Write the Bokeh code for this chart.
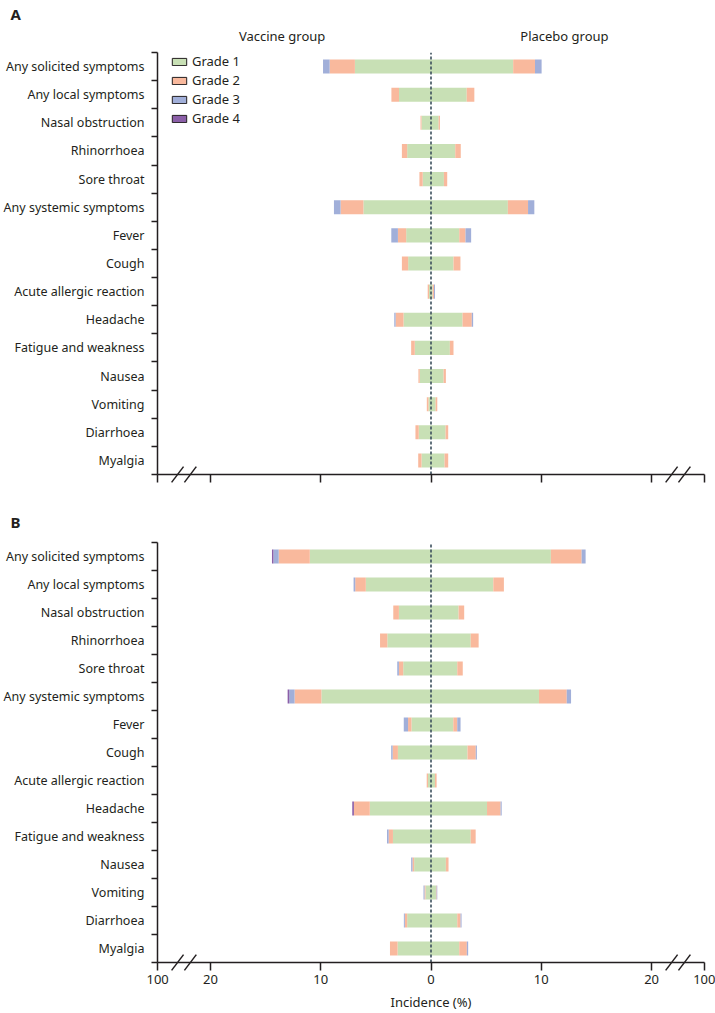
import numpy as np
from bokeh.plotting import figure
from bokeh.models import (ColumnDataSource, FixedTicker, CustomJSTickFormatter,
                          Legend, LegendItem, Range1d, LinearAxis)
from bokeh.layouts import column
from bokeh.embed import file_html
from bokeh.resources import INLINE

categories = ["Any solicited symptoms", "Any local symptoms", "Nasal obstruction", "Rhinorrhoea",
              "Sore throat", "Any systemic symptoms", "Fever", "Cough", "Acute allergic reaction",
              "Headache", "Fatigue and weakness", "Nausea", "Vomiting", "Diarrhoea", "Myalgia"]
grades = ["Grade 1", "Grade 2", "Grade 3", "Grade 4"]
colors = ["#c8e0b5", "#f9b99d", "#a1afd9", "#8b5fa8"]

# Panel A
a_vac_g1 = [6.9, 2.9, 0.86, 2.16, 0.75, 6.13, 2.25, 2.07, 0.18, 2.49, 1.47, 1.02, 0.23, 1.11, 0.86]
a_vac_g2 = [2.29, 0.69, 0.09, 0.48, 0.3, 2.07, 0.75, 0.57, 0.12, 0.72, 0.33, 0.12, 0.15, 0.3, 0.3]
a_vac_g3 = [0.6, 0, 0, 0, 0, 0.6, 0.6, 0, 0, 0.12, 0, 0, 0, 0, 0]
a_vac_g4 = [0, 0, 0, 0, 0, 0, 0, 0, 0, 0, 0, 0, 0, 0, 0]
a_pla_g1 = [7.45, 3.24, 0.69, 2.2, 1.17, 6.97, 2.56, 2.04, 0.15, 2.86, 1.71, 1.14, 0.42, 1.32, 1.23]
a_pla_g2 = [1.98, 0.69, 0.12, 0.5, 0.3, 1.83, 0.57, 0.63, 0.12, 0.84, 0.33, 0.21, 0.15, 0.24, 0.33]
a_pla_g3 = [0.6, 0, 0, 0, 0, 0.57, 0.51, 0, 0.09, 0.12, 0, 0, 0, 0, 0]
a_pla_g4 = [0, 0, 0, 0, 0, 0, 0, 0, 0, 0, 0, 0, 0, 0, 0]

# Panel B
b_vac_g1 = [10.99, 5.91, 2.91, 3.96, 2.52, 9.94, 1.77, 3.0, 0.27, 5.55, 3.45, 1.53, 0.5, 2.16, 3.03]
b_vac_g2 = [2.82, 0.96, 0.51, 0.66, 0.39, 2.43, 0.31, 0.48, 0.12, 1.44, 0.39, 0.15, 0.09, 0.21, 0.69]
b_vac_g3 = [0.48, 0.15, 0, 0, 0.15, 0.48, 0.39, 0.13, 0, 0, 0.15, 0.12, 0.09, 0.09, 0]
b_vac_g4 = [0.13, 0, 0, 0, 0, 0.15, 0, 0, 0, 0.15, 0, 0, 0, 0, 0]
b_pla_g1 = [10.87, 5.65, 2.5, 3.6, 2.38, 9.79, 2.02, 3.31, 0.36, 5.08, 3.6, 1.35, 0.45, 2.38, 2.56]
b_pla_g2 = [2.79, 0.96, 0.51, 0.72, 0.5, 2.52, 0.36, 0.75, 0.15, 1.23, 0.45, 0.24, 0.06, 0.3, 0.69]
b_pla_g3 = [0.36, 0, 0, 0, 0, 0.39, 0.3, 0.1, 0, 0.1, 0, 0, 0.06, 0.09, 0.12]
b_pla_g4 = [0, 0, 0, 0, 0, 0, 0, 0, 0, 0, 0, 0, 0, 0, 0]

x_tick_values = [-24.79, -20, -10, 0, 10, 20, 24.79]
x_tick_labels = ["100", "20", "10", "0", "10", "20", "100"]
break_centers = [-22.4, 22.4]
group_headers = ["Vaccine group", "Placebo group"]
group_header_x = [-13.5, 12.1]

FONT = "Noto Sans"
TXT = "#231f20"
N = len(categories)
ypos = [N - 0.5 - i for i in range(N)]
bounds = list(range(N + 1))

W = 715
BL, BR = 155, 11
XMIN, XMAX = -24.8, 24.8


def make_panel(vac, pla, letter, height, top, bottom, show_labels, headers, title_standoff, legend):
    p = figure(width=W, height=height, x_range=Range1d(XMIN, XMAX), y_range=Range1d(0, N),
               output_backend="svg", toolbar_location=None,
               min_border_left=BL, min_border_right=BR, min_border_top=top, min_border_bottom=bottom)
    p.grid.visible = False
    p.outline_line_color = None
    p.background_fill_color = "white"

    # panel letter as title, shifted to the left page edge
    p.title.text = letter
    p.title.align = "left"
    p.title.offset = -(BL - 8)
    p.title.standoff = title_standoff
    p.title.text_font = FONT
    p.title.text_font_size = "15px"
    p.title.text_font_style = "bold"
    p.title.text_color = TXT

    data = dict(y=ypos)
    for k in range(4):
        data[f"v{k}"] = [-v for v in vac[k]]
        data[f"p{k}"] = list(pla[k])
    src = ColumnDataSource(data)
    p.hbar_stack([f"v{k}" for k in range(4)], y="y", height=0.5, color=colors, line_color=None, source=src)
    p.hbar_stack([f"p{k}" for k in range(4)], y="y", height=0.5, color=colors, line_color=None, source=src)

    # zero reference line
    p.segment(x0=[0], y0=[0], x1=[0], y1=[N], line_color="#3b4f5c", line_width=1.6, line_dash="3 2")

    # y axis
    ya = p.yaxis[0]
    ya.ticker = FixedTicker(ticks=ypos, minor_ticks=bounds)
    ya.formatter = CustomJSTickFormatter(args=dict(cats=categories),
                                         code="const i = Math.round(cats.length - 0.5 - tick); return cats[i] || '';")
    ya.major_tick_out = 0
    ya.major_tick_in = 0
    ya.minor_tick_out = 6
    ya.minor_tick_in = 0
    ya.minor_tick_line_color = TXT
    ya.minor_tick_line_width = 1.5
    ya.axis_line_color = TXT
    ya.axis_line_width = 1.5
    ya.major_label_standoff = 7
    ya.major_label_text_font = FONT
    ya.major_label_text_font_size = "12.5px"
    ya.major_label_text_color = TXT

    # x axis
    xa = p.xaxis[0]
    xa.ticker = FixedTicker(ticks=x_tick_values)
    if show_labels:
        xa.formatter = CustomJSTickFormatter(args=dict(tvals=x_tick_values, tlabs=x_tick_labels),
                                             code="const i = tvals.indexOf(tick); return i >= 0 ? tlabs[i] : '';")
        xa.major_label_text_font_size = "13px"
        xa.axis_label = "Incidence (%)"
        xa.axis_label_text_font = FONT
        xa.axis_label_text_font_size = "13px"
        xa.axis_label_text_font_style = "normal"
        xa.axis_label_text_color = TXT
        xa.axis_label_standoff = 6
    else:
        xa.formatter = CustomJSTickFormatter(code="return '';")
        xa.major_label_text_font_size = "0px"
    xa.major_tick_out = 8
    xa.major_tick_in = 0
    xa.major_tick_line_color = TXT
    xa.major_tick_line_width = 1.5
    xa.minor_tick_line_color = None
    xa.axis_line_color = TXT
    xa.axis_line_width = 1.5
    xa.major_label_standoff = 4
    xa.major_label_text_font = FONT
    xa.major_label_text_color = TXT

    # group headers as an unlined axis above the frame
    if headers:
        ha = LinearAxis(ticker=FixedTicker(ticks=group_header_x),
                        formatter=CustomJSTickFormatter(args=dict(hx=group_header_x, hl=headers),
                                                        code="const i = hx.indexOf(tick); return i >= 0 ? hl[i] : '';"))
        ha.axis_line_color = None
        ha.major_tick_line_color = None
        ha.minor_tick_line_color = None
        ha.major_tick_out = 0
        ha.major_tick_in = 0
        ha.major_label_standoff = 8
        ha.major_label_text_font = FONT
        ha.major_label_text_font_size = "13px"
        ha.major_label_text_color = TXT
        p.add_layout(ha, "above")

    # axis break marks
    dx, dy, gap = 0.54, 0.28, 0.58
    x0, x1, y0, y1 = [], [], [], []
    for c in break_centers:
        for s in (-gap, gap):
            x0.append(c + s - dx)
            x1.append(c + s + dx)
            y0.append(-dy)
            y1.append(dy)
    p.segment(x0=x0, y0=y0, x1=x1, y1=y1, line_color=TXT, line_width=1.5, level="overlay")

    if legend:
        items = []
        for g, c in zip(grades, colors):
            r = p.hbar(y=[float("nan")], left=[0], right=[0], height=0.5, fill_color=c,
                       line_color=TXT, line_width=1)
            items.append(LegendItem(label=g, renderers=[r]))
        lg = Legend(items=items, location=(13, 347), glyph_width=18, glyph_height=9,
                    label_height=9, spacing=1, padding=0, margin=0, label_standoff=4,
                    border_line_color=None, background_fill_alpha=0,
                    label_text_font=FONT, label_text_font_size="13px", label_text_color=TXT)
        p.add_layout(lg)
    return p


pa = make_panel([a_vac_g1, a_vac_g2, a_vac_g3, a_vac_g4], [a_pla_g1, a_pla_g2, a_pla_g3, a_pla_g4],
                "A", 494, 52, 20, False, group_headers, 0, True)
pb = make_panel([b_vac_g1, b_vac_g2, b_vac_g3, b_vac_g4], [b_pla_g1, b_pla_g2, b_pla_g3, b_pla_g4],
                "B", 519, 48, 48, True, None, 22, False)

layout = column(pa, pb, spacing=0)
open("out.html", "w").write(file_html(layout, INLINE))
